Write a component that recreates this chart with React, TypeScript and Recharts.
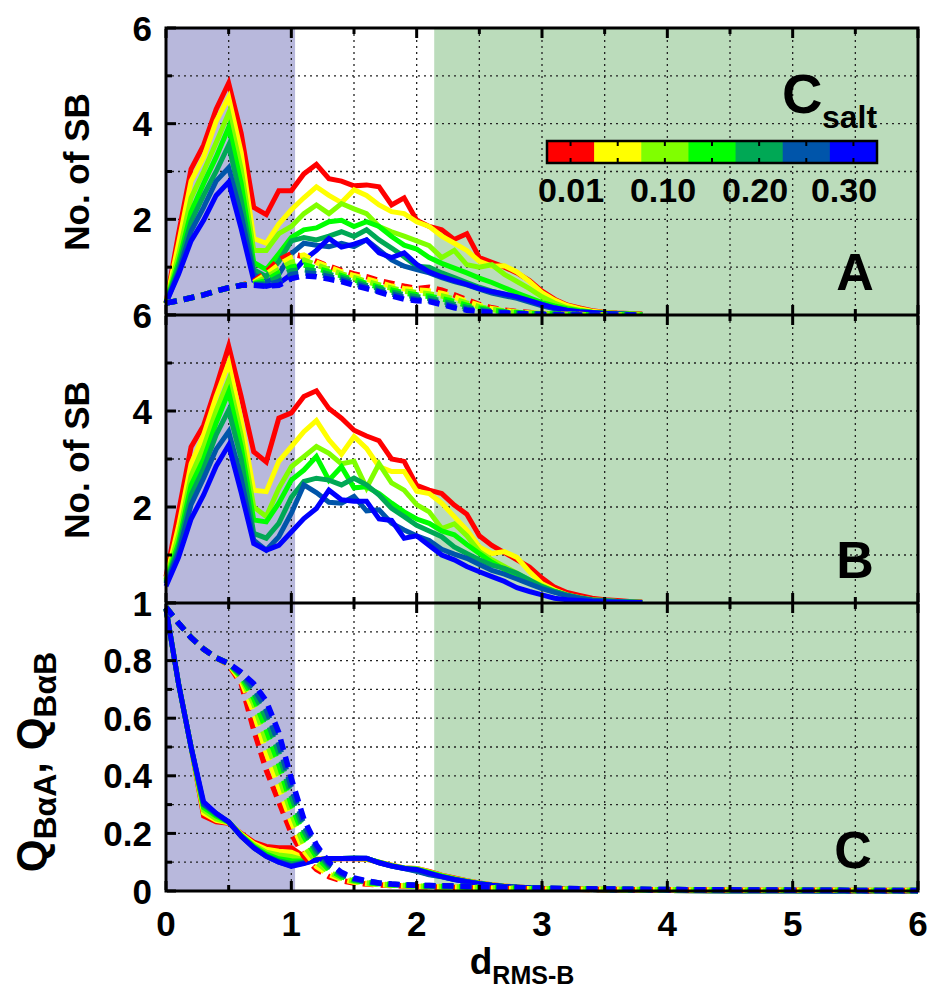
import { LineChart, Line, XAxis, YAxis, CartesianGrid, ReferenceArea } from 'recharts'

// salt concentrations and their colours (colour bar order)
const salts = ['0.01', '0.05', '0.10', '0.15', '0.20', '0.25', '0.30']
const saltColors = ['#ff0000', '#ffff00', '#80ff00', '#00ff00', '#00a855', '#0055aa', '#0000ff']
const barLabels = ['0.01', '0.10', '0.20', '0.30']

// d_RMS-B sample points
const xSB = [0, 0.1, 0.2, 0.3, 0.4, 0.5, 0.6, 0.7, 0.8, 0.9, 1.0, 1.1, 1.2, 1.3, 1.4, 1.5, 1.6, 1.7, 1.8, 1.9,
  2.0, 2.1, 2.2, 2.3, 2.4, 2.5, 2.6, 2.7, 2.8, 2.9, 3.0, 3.1, 3.2, 3.3, 3.4, 3.5, 3.6, 3.7, 3.8]
const xQ = [0, 0.1, 0.2, 0.3, 0.4, 0.5, 0.6, 0.7, 0.8, 0.9, 1.0, 1.1, 1.2, 1.3, 1.4, 1.5, 1.6, 1.7, 1.8, 1.9,
  2.0, 2.1, 2.2, 2.3, 2.4, 2.5, 2.6, 2.7, 2.8, 2.9, 3.0, 3.5, 4.0, 4.5, 5.0, 5.5, 6.0]

// panel A, solid: number of salt bridges
const sbA_001 = [0.25, 1.7, 3.05, 3.55, 4.3, 4.85, 3.8, 2.25, 2.1, 2.6, 2.6, 2.95, 3.15, 2.85, 2.8, 2.7, 2.72, 2.68, 2.3, 2.45, 1.98, 1.85, 1.78, 1.58, 1.7, 1.2, 1.1, 1.0, 0.88, 0.72, 0.5, 0.33, 0.21, 0.15, 0.09, 0.06, 0.04, 0.03, 0.02]
const sbA_005 = [0.25, 1.5, 2.8, 3.3, 4.05, 4.55, 3.4, 1.6, 1.5, 1.9, 2.2, 2.45, 2.68, 2.5, 2.35, 2.62, 2.5, 2.3, 2.16, 2.12, 1.95, 1.85, 1.65, 1.5, 1.35, 1.12, 1.02, 1.03, 0.9, 0.7, 0.47, 0.31, 0.2, 0.13, 0.08, 0.05, 0.03, 0.02, 0.01]
const sbA_010 = [0.25, 1.25, 2.45, 3.0, 3.6, 4.22, 3.05, 1.35, 1.35, 1.7, 1.85, 2.12, 2.3, 2.12, 2.33, 2.22, 2.12, 1.85, 1.74, 1.65, 1.55, 1.45, 1.2, 1.35, 1.05, 1.0, 1.05, 0.85, 0.7, 0.55, 0.38, 0.25, 0.15, 0.1, 0.06, 0.04, 0.03, 0.02, 0.01]
const sbA_015 = [0.25, 1.1, 2.15, 2.75, 3.3, 3.92, 2.75, 1.1, 0.95, 1.28, 1.62, 1.78, 1.82, 1.95, 1.98, 1.85, 1.95, 1.85, 1.64, 1.46, 1.38, 1.2, 1.08, 0.98, 0.88, 0.77, 0.68, 0.57, 0.46, 0.36, 0.26, 0.19, 0.13, 0.09, 0.06, 0.04, 0.03, 0.02, 0.01]
const sbA_020 = [0.25, 1.0, 1.95, 2.5, 3.0, 3.55, 2.4, 0.95, 0.8, 1.12, 1.55, 1.62, 1.57, 1.65, 1.74, 1.64, 1.78, 1.57, 1.4, 1.22, 1.02, 1.0, 0.88, 0.78, 0.68, 0.58, 0.5, 0.43, 0.38, 0.3, 0.22, 0.15, 0.1, 0.07, 0.05, 0.03, 0.02, 0.01, 0.01]
const sbA_025 = [0.25, 0.9, 1.75, 2.25, 2.8, 3.08, 2.1, 0.85, 0.68, 0.85, 1.28, 1.5, 1.46, 1.43, 1.5, 1.43, 1.57, 1.36, 1.15, 1.02, 0.95, 0.88, 0.78, 0.7, 0.63, 0.54, 0.46, 0.4, 0.35, 0.27, 0.19, 0.13, 0.08, 0.06, 0.04, 0.03, 0.02, 0.01, 0.01]
const sbA_030 = [0.25, 0.85, 1.55, 1.98, 2.5, 2.78, 1.8, 0.72, 0.6, 0.66, 0.85, 1.15, 1.35, 1.6, 1.42, 1.48, 1.57, 1.3, 1.2, 1.3, 1.06, 0.9, 0.8, 0.72, 0.64, 0.55, 0.49, 0.44, 0.38, 0.3, 0.22, 0.15, 0.1, 0.07, 0.05, 0.03, 0.02, 0.01, 0.01]

// panel A, dashed
const sbAd_001 = [0.25, 0.3, 0.36, 0.42, 0.5, 0.57, 0.62, 0.7, 0.9, 1.15, 1.28, 1.22, 1.12, 1.02, 0.93, 0.86, 0.8, 0.72, 0.66, 0.6, 0.55, 0.58, 0.52, 0.42, 0.32, 0.22, 0.15, 0.1, 0.07, 0.05, 0.03, 0.02, 0.01, 0.01, 0, 0, 0, 0, 0]
const sbAd_005 = [0.25, 0.3, 0.36, 0.42, 0.5, 0.57, 0.62, 0.68, 0.85, 1.05, 1.2, 1.25, 1.1, 1.0, 0.9, 0.82, 0.75, 0.68, 0.6, 0.55, 0.52, 0.5, 0.45, 0.38, 0.28, 0.2, 0.13, 0.09, 0.06, 0.04, 0.03, 0.02, 0.01, 0.01, 0, 0, 0, 0, 0]
const sbAd_010 = [0.25, 0.3, 0.36, 0.42, 0.5, 0.57, 0.62, 0.66, 0.78, 0.95, 1.1, 1.15, 1.05, 0.95, 0.86, 0.78, 0.7, 0.63, 0.56, 0.5, 0.47, 0.44, 0.4, 0.33, 0.25, 0.17, 0.12, 0.08, 0.05, 0.04, 0.03, 0.02, 0.01, 0.01, 0, 0, 0, 0, 0]
const sbAd_015 = [0.25, 0.3, 0.36, 0.42, 0.5, 0.57, 0.62, 0.65, 0.72, 0.88, 1.0, 1.05, 0.98, 0.9, 0.82, 0.74, 0.66, 0.58, 0.52, 0.46, 0.42, 0.39, 0.34, 0.28, 0.2, 0.14, 0.1, 0.07, 0.05, 0.03, 0.02, 0.02, 0.01, 0.01, 0, 0, 0, 0, 0]
const sbAd_020 = [0.25, 0.3, 0.36, 0.42, 0.5, 0.57, 0.62, 0.64, 0.66, 0.8, 0.92, 0.95, 0.92, 0.85, 0.78, 0.7, 0.62, 0.55, 0.48, 0.42, 0.38, 0.35, 0.29, 0.22, 0.16, 0.11, 0.08, 0.06, 0.04, 0.03, 0.02, 0.01, 0.01, 0, 0, 0, 0, 0, 0]
const sbAd_025 = [0.25, 0.3, 0.36, 0.42, 0.5, 0.57, 0.62, 0.63, 0.62, 0.7, 0.85, 0.88, 0.86, 0.8, 0.74, 0.66, 0.58, 0.5, 0.44, 0.37, 0.33, 0.3, 0.25, 0.18, 0.12, 0.09, 0.06, 0.05, 0.03, 0.02, 0.02, 0.01, 0.01, 0, 0, 0, 0, 0, 0]
const sbAd_030 = [0.25, 0.3, 0.36, 0.42, 0.5, 0.57, 0.62, 0.62, 0.6, 0.62, 0.76, 0.82, 0.8, 0.75, 0.7, 0.62, 0.55, 0.48, 0.4, 0.33, 0.3, 0.28, 0.22, 0.15, 0.1, 0.07, 0.05, 0.04, 0.03, 0.02, 0.01, 0.01, 0, 0, 0, 0, 0, 0, 0]

// panel B
const sbB_001 = [0.55, 1.9, 3.25, 3.7, 4.5, 5.35, 4.3, 3.15, 2.94, 3.85, 3.96, 4.3, 4.42, 4.05, 3.85, 3.6, 3.48, 3.38, 3.0, 2.95, 2.45, 2.35, 2.28, 2.04, 1.85, 1.4, 1.2, 1.05, 0.9, 0.75, 0.52, 0.33, 0.22, 0.16, 0.1, 0.07, 0.05, 0.03, 0.02]
const sbB_005 = [0.5, 1.6, 2.9, 3.5, 4.3, 5.0, 3.8, 2.35, 2.32, 2.95, 3.26, 3.57, 3.8, 3.4, 3.1, 3.47, 3.22, 2.84, 2.74, 2.74, 2.33, 2.28, 2.08, 1.8, 1.52, 1.17, 1.03, 1.07, 0.95, 0.65, 0.4, 0.27, 0.17, 0.11, 0.07, 0.05, 0.03, 0.02, 0.01]
const sbB_010 = [0.48, 1.4, 2.65, 3.25, 4.0, 4.65, 3.5, 2.0, 1.8, 2.39, 2.84, 3.05, 3.26, 3.12, 2.9, 2.95, 2.4, 2.9, 2.5, 2.35, 2.05, 1.9, 1.55, 1.65, 1.4, 1.07, 0.9, 0.76, 0.62, 0.48, 0.36, 0.25, 0.16, 0.1, 0.06, 0.04, 0.03, 0.02, 0.01]
const sbB_015 = [0.45, 1.25, 2.45, 3.0, 3.75, 4.4, 3.25, 1.73, 1.69, 2.08, 2.56, 2.77, 3.05, 2.56, 2.84, 2.4, 2.42, 2.28, 2.08, 1.9, 1.75, 1.66, 1.5, 1.42, 1.22, 1.03, 0.85, 0.7, 0.55, 0.45, 0.34, 0.24, 0.16, 0.1, 0.06, 0.04, 0.03, 0.02, 0.01]
const sbB_020 = [0.42, 1.15, 2.25, 2.8, 3.5, 4.02, 3.0, 1.45, 1.35, 1.66, 2.2, 2.53, 2.6, 2.56, 2.46, 2.6, 2.46, 2.25, 1.97, 1.8, 1.62, 1.5, 1.38, 1.17, 1.03, 0.9, 0.79, 0.72, 0.62, 0.48, 0.34, 0.24, 0.17, 0.11, 0.07, 0.05, 0.03, 0.02, 0.01]
const sbB_025 = [0.4, 1.05, 2.05, 2.6, 3.2, 3.57, 2.6, 1.31, 1.1, 1.38, 1.87, 2.46, 2.3, 2.1, 2.08, 2.22, 1.92, 1.94, 1.66, 1.52, 1.4, 1.3, 1.12, 1.02, 0.93, 0.8, 0.68, 0.6, 0.5, 0.4, 0.3, 0.22, 0.15, 0.1, 0.06, 0.04, 0.03, 0.02, 0.01]
const sbB_030 = [0.35, 0.95, 1.75, 2.25, 2.85, 3.29, 2.3, 1.24, 1.1, 1.2, 1.48, 1.76, 1.97, 2.35, 2.15, 2.12, 2.12, 1.75, 1.72, 1.35, 1.4, 1.2, 1.0, 0.9, 0.76, 0.65, 0.55, 0.45, 0.32, 0.24, 0.17, 0.1, 0.07, 0.05, 0.03, 0.02, 0.01, 0.01, 0.01]

// panel C, solid: Q_BaA
const qA_001 = [0.98, 0.72, 0.5, 0.26, 0.24, 0.235, 0.2, 0.17, 0.155, 0.15, 0.15, 0.12, 0.11, 0.11, 0.112, 0.112, 0.11, 0.1, 0.09, 0.08, 0.078, 0.068, 0.055, 0.045, 0.036, 0.028, 0.022, 0.017, 0.014, 0.011, 0.009, 0.004, 0.002, 0.001, 0.001, 0, 0]
const qA_005 = [0.98, 0.72, 0.5, 0.27, 0.245, 0.237, 0.198, 0.165, 0.145, 0.138, 0.135, 0.115, 0.11, 0.112, 0.113, 0.113, 0.111, 0.1, 0.09, 0.08, 0.078, 0.066, 0.054, 0.044, 0.035, 0.027, 0.021, 0.017, 0.014, 0.011, 0.009, 0.004, 0.002, 0.001, 0.001, 0, 0]
const qA_010 = [0.98, 0.72, 0.5, 0.28, 0.25, 0.238, 0.195, 0.16, 0.135, 0.125, 0.12, 0.108, 0.108, 0.112, 0.113, 0.113, 0.112, 0.1, 0.088, 0.08, 0.077, 0.065, 0.053, 0.043, 0.034, 0.027, 0.021, 0.016, 0.013, 0.011, 0.009, 0.004, 0.002, 0.001, 0.001, 0, 0]
const qA_015 = [0.98, 0.72, 0.5, 0.29, 0.26, 0.24, 0.193, 0.155, 0.128, 0.112, 0.105, 0.104, 0.108, 0.112, 0.113, 0.114, 0.113, 0.099, 0.088, 0.079, 0.076, 0.064, 0.052, 0.042, 0.033, 0.026, 0.02, 0.016, 0.013, 0.011, 0.009, 0.004, 0.002, 0.001, 0.001, 0, 0]
const qA_020 = [0.98, 0.72, 0.5, 0.3, 0.265, 0.24, 0.19, 0.152, 0.122, 0.105, 0.095, 0.1, 0.108, 0.112, 0.113, 0.114, 0.113, 0.099, 0.087, 0.079, 0.07, 0.058, 0.05, 0.041, 0.033, 0.026, 0.02, 0.016, 0.013, 0.01, 0.008, 0.004, 0.002, 0.001, 0.001, 0, 0]
const qA_025 = [0.98, 0.72, 0.5, 0.3, 0.27, 0.24, 0.19, 0.15, 0.12, 0.1, 0.088, 0.097, 0.108, 0.113, 0.113, 0.114, 0.114, 0.098, 0.087, 0.078, 0.068, 0.056, 0.049, 0.04, 0.032, 0.025, 0.02, 0.016, 0.013, 0.01, 0.008, 0.004, 0.002, 0.001, 0.001, 0, 0]
const qA_030 = [0.98, 0.72, 0.5, 0.31, 0.27, 0.24, 0.19, 0.15, 0.12, 0.1, 0.085, 0.095, 0.108, 0.113, 0.113, 0.114, 0.114, 0.098, 0.087, 0.078, 0.075, 0.062, 0.05, 0.04, 0.032, 0.025, 0.02, 0.016, 0.013, 0.011, 0.009, 0.004, 0.002, 0.001, 0.001, 0, 0]

// panel C, dashed: Q_BaB
const qB_001 = [0.985, 0.93, 0.88, 0.84, 0.81, 0.785, 0.72, 0.56, 0.42, 0.31, 0.2, 0.12, 0.075, 0.05, 0.036, 0.028, 0.024, 0.021, 0.019, 0.017, 0.015, 0.014, 0.013, 0.012, 0.011, 0.01, 0.009, 0.008, 0.008, 0.007, 0.007, 0.005, 0.004, 0.003, 0.003, 0.002, 0.002]
const qB_005 = [0.985, 0.93, 0.88, 0.84, 0.81, 0.787, 0.73, 0.62, 0.48, 0.36, 0.24, 0.14, 0.085, 0.058, 0.04, 0.031, 0.026, 0.022, 0.02, 0.018, 0.016, 0.015, 0.014, 0.013, 0.012, 0.011, 0.01, 0.009, 0.008, 0.008, 0.007, 0.005, 0.004, 0.003, 0.003, 0.002, 0.002]
const qB_010 = [0.985, 0.93, 0.88, 0.84, 0.81, 0.789, 0.74, 0.65, 0.52, 0.4, 0.27, 0.16, 0.1, 0.066, 0.045, 0.034, 0.028, 0.024, 0.021, 0.019, 0.017, 0.016, 0.015, 0.014, 0.013, 0.012, 0.011, 0.01, 0.009, 0.008, 0.008, 0.006, 0.004, 0.003, 0.003, 0.002, 0.002]
const qB_015 = [0.985, 0.93, 0.88, 0.84, 0.81, 0.79, 0.745, 0.67, 0.56, 0.44, 0.3, 0.19, 0.12, 0.075, 0.05, 0.037, 0.03, 0.025, 0.022, 0.02, 0.018, 0.017, 0.016, 0.015, 0.014, 0.013, 0.012, 0.011, 0.01, 0.009, 0.008, 0.006, 0.004, 0.003, 0.003, 0.002, 0.002]
const qB_020 = [0.985, 0.93, 0.88, 0.84, 0.81, 0.79, 0.75, 0.69, 0.6, 0.48, 0.33, 0.21, 0.135, 0.085, 0.056, 0.04, 0.032, 0.027, 0.023, 0.021, 0.019, 0.018, 0.017, 0.016, 0.015, 0.014, 0.013, 0.012, 0.011, 0.01, 0.009, 0.006, 0.005, 0.004, 0.003, 0.002, 0.002]
const qB_025 = [0.985, 0.93, 0.88, 0.84, 0.81, 0.79, 0.755, 0.705, 0.63, 0.51, 0.36, 0.23, 0.148, 0.093, 0.06, 0.042, 0.034, 0.028, 0.024, 0.022, 0.02, 0.019, 0.018, 0.017, 0.016, 0.015, 0.014, 0.013, 0.012, 0.011, 0.01, 0.007, 0.005, 0.004, 0.003, 0.002, 0.002]
const qB_030 = [0.985, 0.93, 0.88, 0.84, 0.81, 0.79, 0.76, 0.72, 0.66, 0.55, 0.39, 0.25, 0.16, 0.1, 0.065, 0.045, 0.035, 0.028, 0.024, 0.021, 0.02, 0.019, 0.018, 0.017, 0.016, 0.015, 0.014, 0.013, 0.012, 0.011, 0.01, 0.007, 0.005, 0.004, 0.003, 0.002, 0.002]

const xTicks = [0, 0.5, 1, 1.5, 2, 2.5, 3, 3.5, 4, 4.5, 5, 5.5, 6]
const sbTicks = [0, 1, 2, 3, 4, 5, 6]
const qTicks = [0, 0.1, 0.2, 0.3, 0.4, 0.5, 0.6, 0.7, 0.8, 0.9, 1]

const W = 936
const H = 991
const LEFT = 166
const RIGHT = 918
const FONT = '"Liberation Sans", Arial, sans-serif'
const TICK_FONT = 35
// axes need a non-zero size or Recharts skips them; 1px each, taken out of the margins
const AX = 1

type Row = Record<string, number>

function buildRows(xs: number[], groups: [string, number[][]][]): Row[] {
  return xs.map((x, i) => {
    const row: Row = { x }
    groups.forEach(([key, list]) => list.forEach((arr, k) => { row[key + k] = arr[i] }))
    return row
  })
}

const dataA = buildRows(xSB, [
  ['s', [sbA_001, sbA_005, sbA_010, sbA_015, sbA_020, sbA_025, sbA_030]],
  ['d', [sbAd_001, sbAd_005, sbAd_010, sbAd_015, sbAd_020, sbAd_025, sbAd_030]],
])
const dataB = buildRows(xSB, [['s', [sbB_001, sbB_005, sbB_010, sbB_015, sbB_020, sbB_025, sbB_030]]])
const dataC = buildRows(xQ, [
  ['s', [qA_001, qA_005, qA_010, qA_015, qA_020, qA_025, qA_030]],
  ['d', [qB_001, qB_005, qB_010, qB_015, qB_020, qB_025, qB_030]],
])

const near = (a: number, b: number) => Math.abs(a - b) < 1e-6

// tick marks point into the frame; dir = +1 draws downward/rightward
function XTick(props: any) {
  const { x, y, payload, dir, labels } = props
  const v = payload.value as number
  const major = near(v, Math.round(v))
  const len = major ? 9 : 5
  const y0 = dir < 0 ? y - AX : y + AX
  return (
    <g>
      <line x1={x} x2={x} y1={y0} y2={y0 + dir * len} stroke="#000" strokeWidth={3} />
      {labels && major && (
        <text x={x} y={y0 + 46} textAnchor="middle" fontSize={TICK_FONT} fontWeight="bold" fontFamily={FONT} fill="#000">
          {v}
        </text>
      )}
    </g>
  )
}

function YTick(props: any) {
  const { x, y, payload, dir, majorOf, labelOf } = props
  const v = payload.value as number
  const len = majorOf(v) !== null ? 9 : 5
  const text: string | null = labelOf ? labelOf(v) : null
  const x0 = dir > 0 ? x + AX : x - AX
  return (
    <g>
      <line x1={x0} x2={x0 + dir * len} y1={y} y2={y} stroke="#000" strokeWidth={3} />
      {text !== null && (
        <text x={x0 - 15} y={y} dy="0.36em" textAnchor="end" fontSize={TICK_FONT} fontWeight="bold" fontFamily={FONT} fill="#000">
          {text}
        </text>
      )}
    </g>
  )
}

// even counts carry a label; zero is left to the panel below
const sbMajor = (v: number) => (v % 2 === 0 ? String(v) : null)
const sbLabel = (v: number) => (v > 0 ? sbMajor(v) : null)
const qLabel = (v: number) => {
  const t = Math.round(v * 10)
  if (t % 2 !== 0) return null
  return t === 0 ? '0' : t === 10 ? '1' : (t / 10).toFixed(1)
}

type PanelProps = {
  top: number
  bottom: number
  data: Row[]
  domain: [number, number]
  ticks: number[]
  labelOf: (v: number) => string | null
  majorOf: (v: number) => string | null
  dashed: boolean
  xLabels: boolean
}

function Panel({ top, bottom, data, domain, ticks, labelOf, majorOf, dashed, xLabels }: PanelProps) {
  return (
    <LineChart
      width={W}
      height={H}
      data={data}
      margin={{ top: top - AX, right: W - RIGHT - AX, bottom: H - bottom - AX, left: LEFT - AX }}
      style={{ position: 'absolute', left: 0, top: 0 }}
    >
      <ReferenceArea x1={0} x2={1.03} fill="#b8b8dc" fillOpacity={1} stroke="none" zIndex={-200} />
      <ReferenceArea x1={2.14} x2={6} fill="#bbdcbb" fillOpacity={1} stroke="none" zIndex={-200} />
      <CartesianGrid stroke="#222" strokeDasharray="2 4" strokeWidth={1.3} />
      <XAxis dataKey="x" type="number" domain={[0, 6]} ticks={xTicks} interval={0} height={AX}
        tickSize={0} tickMargin={0} axisLine={false} tickLine={false}
        tick={(p: any) => <XTick {...p} dir={-1} labels={xLabels} />} />
      <XAxis xAxisId="top" orientation="top" dataKey="x" type="number" domain={[0, 6]} ticks={xTicks} interval={0}
        height={AX} tickSize={0} tickMargin={0} axisLine={false} tickLine={false}
        tick={(p: any) => <XTick {...p} dir={1} labels={false} />} />
      <YAxis type="number" domain={domain} ticks={ticks} interval={0} width={AX} tickSize={0} tickMargin={0}
        axisLine={false} tickLine={false}
        tick={(p: any) => <YTick {...p} dir={1} majorOf={majorOf} labelOf={labelOf} />} />
      <YAxis yAxisId="right" orientation="right" type="number" domain={domain} ticks={ticks} interval={0} width={AX}
        tickSize={0} tickMargin={0} axisLine={false} tickLine={false}
        tick={(p: any) => <YTick {...p} dir={-1} majorOf={majorOf} labelOf={null} />} />
      {saltColors.map((c, k) => (
        <Line key={'s' + k} dataKey={'s' + k} name={salts[k]} type="linear" stroke={c} strokeWidth={5}
          dot={false} activeDot={false} isAnimationActive={false} />
      ))}
      {dashed && saltColors.map((c, k) => (
        <Line key={'d' + k} dataKey={'d' + k} name={salts[k]} type="linear" stroke={c} strokeWidth={5.5}
          strokeDasharray="11 7" dot={false} activeDot={false} isAnimationActive={false} />
      ))}
    </LineChart>
  )
}

function ColorBar() {
  const x0 = 547
  const y0 = 141
  const w = 330 / saltColors.length
  const h = 22
  return (
    <g>
      {saltColors.map((c, k) => (
        <rect key={c} x={x0 + k * w} y={y0} width={w + 0.5} height={h} fill={c} />
      ))}
      {saltColors.map((c, k) => (
        <g key={'t' + c}>
          <line x1={x0 + (k + 0.5) * w} x2={x0 + (k + 0.5) * w} y1={y0} y2={y0 + 5} stroke="#000" strokeWidth={2} />
          <line x1={x0 + (k + 0.5) * w} x2={x0 + (k + 0.5) * w} y1={y0 + h} y2={y0 + h - 5} stroke="#000" strokeWidth={2} />
        </g>
      ))}
      <rect x={x0} y={y0} width={330} height={h} fill="none" stroke="#000" strokeWidth={2.5} />
      {barLabels.map((t, i) => (
        <text key={t} x={[571, 663, 755, 844][i]} y={202} textAnchor="middle" fontSize={34} fontWeight="bold">{t}</text>
      ))}
    </g>
  )
}

export default function App() {
  return (
    <div style={{ position: 'absolute', left: 0, top: 0, width: W, height: H, background: '#fff', fontFamily: FONT }}>
      <Panel top={28} bottom={315} data={dataA} domain={[0, 6]} ticks={sbTicks} labelOf={sbLabel} majorOf={sbMajor} dashed xLabels={false} />
      <Panel top={315} bottom={603} data={dataB} domain={[0, 6]} ticks={sbTicks} labelOf={sbLabel} majorOf={sbMajor} dashed={false} xLabels={false} />
      <Panel top={603} bottom={891} data={dataC} domain={[0, 1]} ticks={qTicks} labelOf={qLabel} majorOf={qLabel} dashed xLabels />
      <svg width={W} height={H} style={{ position: 'absolute', left: 0, top: 0 }} fontFamily={FONT} fontWeight="bold">
        <rect x={LEFT} y={28} width={RIGHT - LEFT} height={891 - 28} fill="none" stroke="#000" strokeWidth={3} />
        <line x1={LEFT} x2={RIGHT} y1={315} y2={315} stroke="#000" strokeWidth={3} />
        <line x1={LEFT} x2={RIGHT} y1={603} y2={603} stroke="#000" strokeWidth={3} />
        <ColorBar />
        <text x={782} y={113} fontSize={56}>C</text>
        <text x={822} y={128} fontSize={32}>salt</text>
        <text x={855} y={290} textAnchor="middle" fontSize={52}>A</text>
        <text x={855} y={578} textAnchor="middle" fontSize={52}>B</text>
        <text x={853} y={868} textAnchor="middle" fontSize={52}>C</text>
        <text transform="translate(89,172) rotate(-90)" textAnchor="middle" fontSize={35}>No. of SB</text>
        <text transform="translate(89,460) rotate(-90)" textAnchor="middle" fontSize={35}>No. of SB</text>
        <text transform="translate(46,762) rotate(-90)" textAnchor="middle" fontSize={42}>
          Q<tspan fontSize={32} dy={10}>BαA</tspan><tspan dy={-10}>, Q</tspan><tspan fontSize={32} dy={10}>BαB</tspan>
        </text>
        <text x={522} y={974} textAnchor="middle" fontSize={37}>
          d<tspan fontSize={25} dy={10}>RMS-B</tspan>
        </text>
      </svg>
    </div>
  )
}
